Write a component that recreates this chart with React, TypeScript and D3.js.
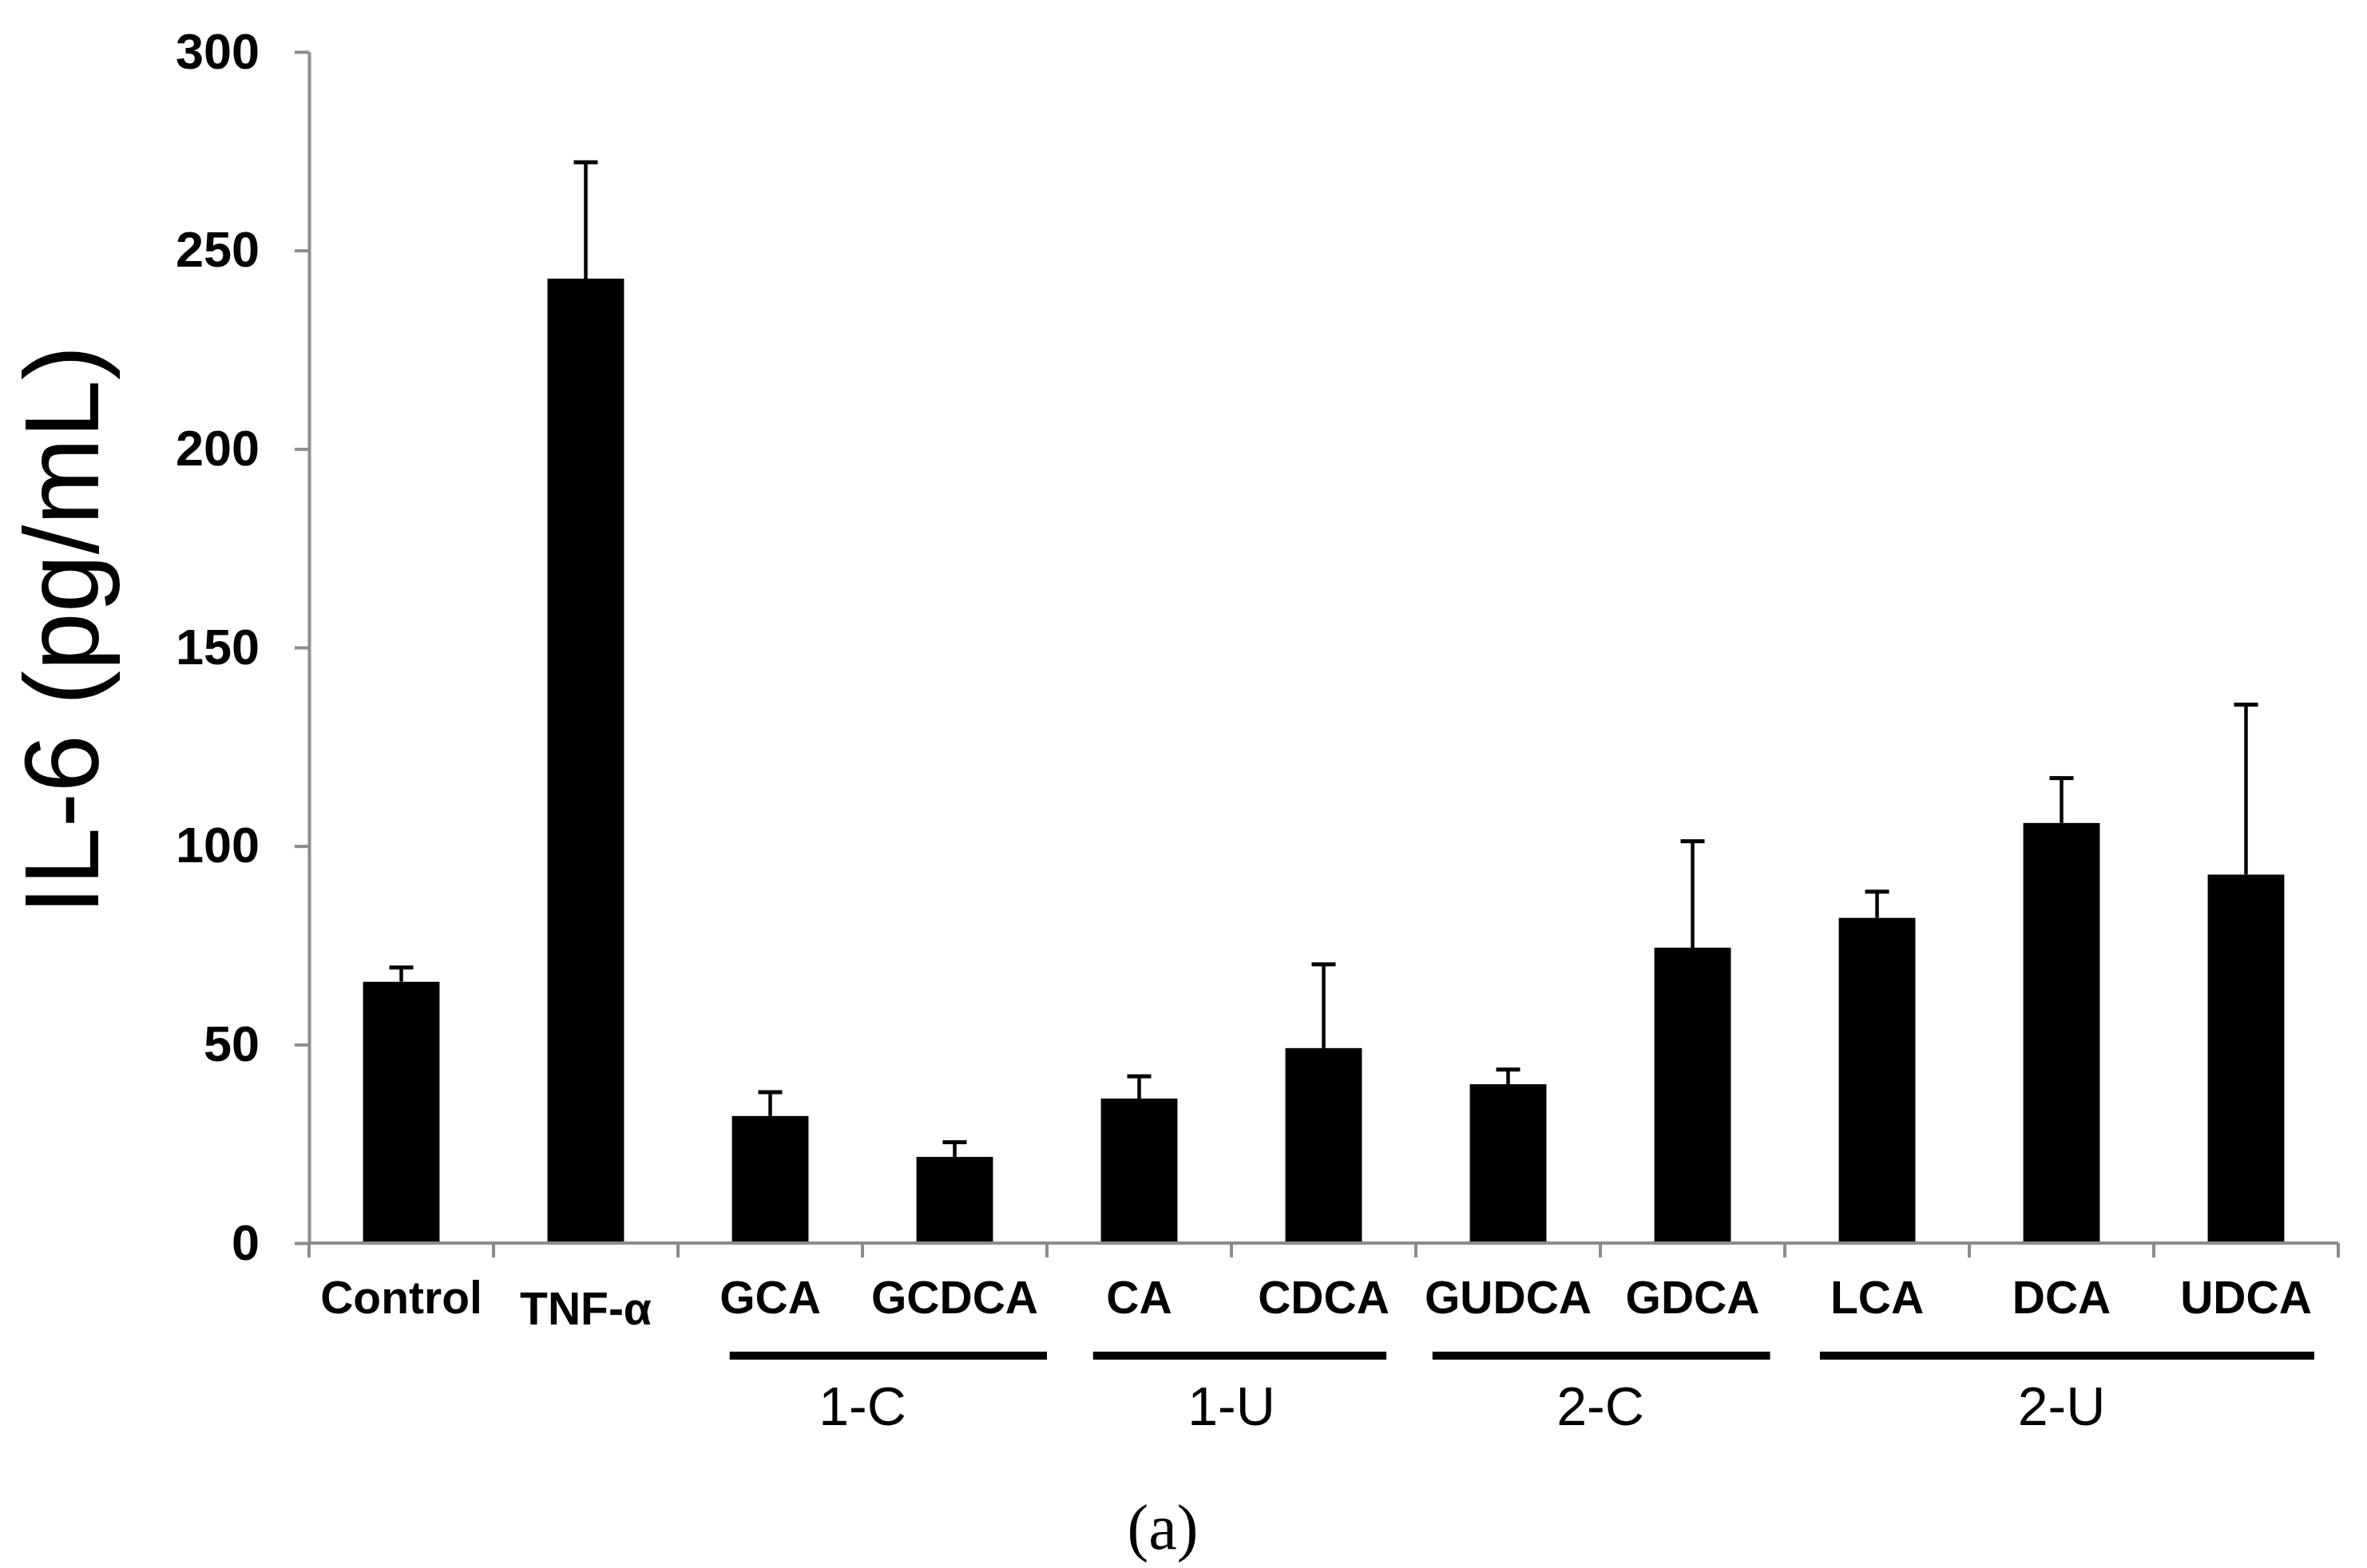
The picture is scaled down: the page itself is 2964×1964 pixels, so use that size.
import React, { useEffect, useRef } from 'react';
import * as d3 from 'd3';

// IL-6 levels
const categories = ['Control', 'TNF-α', 'GCA', 'GCDCA', 'CA', 'CDCA', 'GUDCA', 'GDCA', 'LCA', 'DCA', 'UDCA'];
const means = [65.8, 242.9, 32.0, 21.7, 36.4, 49.1, 40.0, 74.4, 81.9, 105.8, 92.8];
const errors = [3.6, 29.3, 6.0, 3.7, 5.6, 21.1, 3.7, 26.8, 6.6, 11.3, 42.8];
const yTicks = [0, 50, 100, 150, 200, 250, 300];

const groupLabels = ['1-C', '1-U', '2-C', '2-U'];
const groupFirst = ['GCA', 'CA', 'GUDCA', 'LCA'];
const groupLast = ['GCDCA', 'CDCA', 'GDCA', 'UDCA'];

const W = 2964;
const H = 1964;
const SANS = 'Arial, "Liberation Sans", sans-serif';
const AXIS_GREY = '#8c8c8c';

// how far each group underline is pulled in from its band edges (fraction of a band)
const groupInsets: [number, number][] = [[0.28, 0], [0.25, 0.16], [0.09, 0.08], [0.19, 0.13]];

const App: React.FC = () => {
  const svgRef = useRef<SVGSVGElement>(null);

  useEffect(() => {
    document.body.style.margin = '0';
    document.body.style.overflow = 'hidden';
    if (!svgRef.current) return;

    const svg = d3.select(svgRef.current);
    svg.selectAll('*').remove();

    const x0 = 387, x1 = 2928;
    const yBottom = 1557, yTop = 65;

    const xScale = d3.scaleBand<string>().domain(categories).range([x0, x1]).padding(0);
    const yScale = d3.scaleLinear().domain([0, 300]).range([yBottom, yTop]);
    const bw = xScale.bandwidth();
    const barW = bw * 0.415;

    svg.append('rect').attr('width', W).attr('height', H).attr('fill', 'white');

    // y axis
    const yAxis = svg.append('g')
      .attr('transform', `translate(${x0},0)`)
      .call(
        d3.axisLeft(yScale)
          .tickValues(yTicks)
          .tickSize(18)
          .tickSizeOuter(0)
          .tickPadding(44)
      );
    yAxis.select('.domain').attr('stroke', AXIS_GREY).attr('stroke-width', 4);
    yAxis.selectAll('.tick line').attr('stroke', AXIS_GREY).attr('stroke-width', 4);
    yAxis.selectAll('.tick text')
      .attr('font-family', SANS)
      .attr('font-size', 63)
      .attr('font-weight', 'bold')
      .attr('fill', 'black');

    // x axis line + ticks at band boundaries
    const bounds = categories.map(c => xScale(c) as number).concat([x1]);
    svg.append('line')
      .attr('x1', x0).attr('x2', x1)
      .attr('y1', yBottom).attr('y2', yBottom)
      .attr('stroke', AXIS_GREY).attr('stroke-width', 4);
    svg.append('g')
      .selectAll('line')
      .data(bounds)
      .join('line')
      .attr('x1', d => d).attr('x2', d => d)
      .attr('y1', yBottom).attr('y2', yBottom + 18)
      .attr('stroke', AXIS_GREY).attr('stroke-width', 4);

    const rows = categories.map((c, i) => ({ c, m: means[i], e: errors[i] }));

    // bars
    svg.append('g')
      .selectAll('rect')
      .data(rows)
      .join('rect')
      .attr('x', d => (xScale(d.c) as number) + bw / 2 - barW / 2)
      .attr('y', d => yScale(d.m))
      .attr('width', barW)
      .attr('height', d => yBottom - yScale(d.m) - 2)
      .attr('fill', 'black');

    // error bars (upper only)
    const err = svg.append('g').attr('stroke', 'black');
    err.selectAll('line.stem')
      .data(rows)
      .join('line')
      .attr('class', 'stem')
      .attr('x1', d => (xScale(d.c) as number) + bw / 2)
      .attr('x2', d => (xScale(d.c) as number) + bw / 2)
      .attr('y1', d => yScale(d.m))
      .attr('y2', d => yScale(d.m + d.e))
      .attr('stroke-width', 4.5);
    err.selectAll('line.cap')
      .data(rows)
      .join('line')
      .attr('class', 'cap')
      .attr('x1', d => (xScale(d.c) as number) + bw / 2 - 15)
      .attr('x2', d => (xScale(d.c) as number) + bw / 2 + 15)
      .attr('y1', d => yScale(d.m + d.e))
      .attr('y2', d => yScale(d.m + d.e))
      .attr('stroke-width', 5);

    // category labels
    svg.append('g')
      .selectAll('text')
      .data(categories)
      .join('text')
      .attr('x', d => (xScale(d) as number) + bw / 2)
      .attr('y', d => (d === 'TNF-α' ? 1659 : 1645))
      .attr('text-anchor', 'middle')
      .attr('font-family', SANS)
      .attr('font-size', 57)
      .attr('font-weight', 'bold')
      .attr('fill', 'black')
      .text(d => d);

    // group underlines and labels
    groupLabels.forEach((g, i) => {
      const start = xScale(groupFirst[i]) as number;
      const end = (xScale(groupLast[i]) as number) + bw;
      const [inL, inR] = groupInsets[i];
      svg.append('line')
        .attr('x1', start + inL * bw)
        .attr('x2', end - inR * bw)
        .attr('y1', 1698).attr('y2', 1698)
        .attr('stroke', 'black')
        .attr('stroke-width', 10);
      svg.append('text')
        .attr('x', (start + end) / 2)
        .attr('y', 1785)
        .attr('text-anchor', 'middle')
        .attr('font-family', SANS)
        .attr('font-size', 68)
        .attr('fill', 'black')
        .text(g);
    });

    // y axis title
    svg.append('text')
      .attr('transform', `translate(123,789) rotate(-90)`)
      .attr('text-anchor', 'middle')
      .attr('font-family', SANS)
      .attr('font-size', 131)
      .attr('fill', 'black')
      .text('IL-6 (pg/mL)');

    // panel tag
    svg.append('text')
      .attr('x', 1456)
      .attr('y', 1940)
      .attr('text-anchor', 'middle')
      .attr('font-family', '"Liberation Serif", "Times New Roman", serif')
      .attr('font-size', 80)
      .attr('fill', 'black')
      .text('(a)');
  }, []);

  return (
    <svg
      ref={svgRef}
      width={W}
      height={H}
      viewBox={`0 0 ${W} ${H}`}
      style={{ position: 'absolute', left: 0, top: 0, display: 'block' }}
    />
  );
};

export default App;
